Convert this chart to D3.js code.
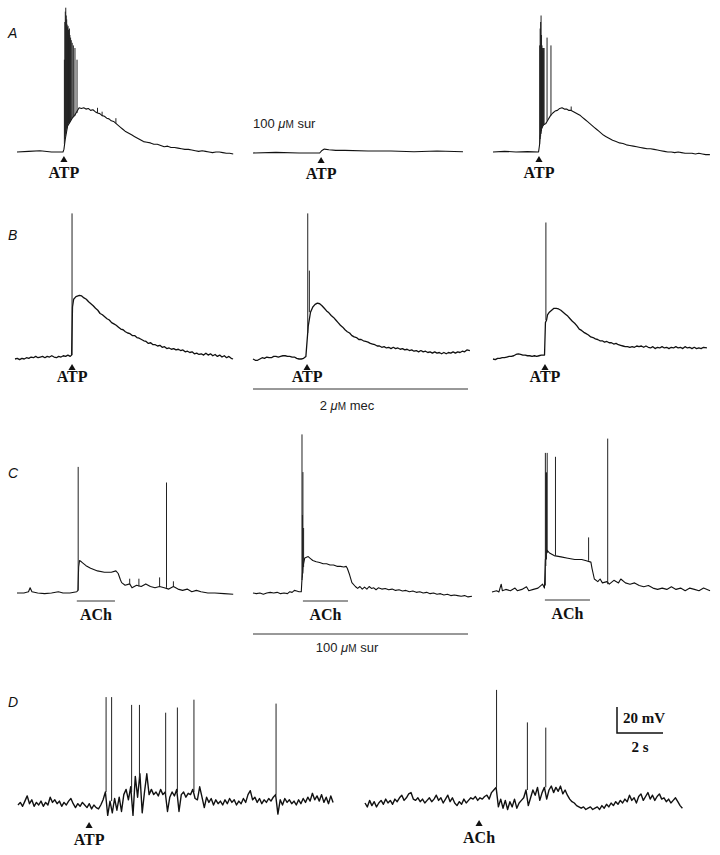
<!DOCTYPE html>
<html>
<head>
<meta charset="utf-8">
<script src="https://cdn.jsdelivr.net/npm/d3@7"></script>
<style>
  body { margin: 0; background: #fff; }
  svg text { fill: #111; }
</style>
</head>
<body>
<div id="fig"></div>
<script>
// ---- Data: traces as [time (s), membrane potential above rest (mV)] ----
// spikes as [time (s), base mV, peak mV]

// Row A: ATP, ATP + 100 uM sur, ATP after washout
const a1Trace = [[0,0],[0.5,0.5],[1,1],[1.5,0],[2.0,0],[2.04,2],[2.1,10],[2.2,20],[2.3,23],[2.4,26],[2.5,28],[2.6,31],[2.7,34],[2.8,33.5],[2.9,34],[3.0,33],[3.1,33.5],[3.2,32],[3.3,32.5],[3.4,31],[3.5,30],[3.6,29.5],[3.7,28],[3.8,27.5],[3.9,26],[4.0,25.5],[4.1,24],[4.2,23.5],[4.3,22],[4.4,20.5],[4.5,19],[4.6,17.5],[4.7,16],[4.8,15],[4.9,14],[5.0,13],[5.1,12],[5.2,11],[5.3,10],[5.4,9],[5.5,8],[5.65,7.5],[5.8,7],[5.95,6],[6.1,6],[6.25,5],[6.4,4],[6.55,4.5],[6.7,3.5],[6.85,3.5],[7.0,3],[7.15,2.5],[7.3,2],[7.45,2],[7.6,1.5],[7.75,1],[7.9,0.5],[8.05,1],[8.2,0.5],[8.35,0],[8.5,-0.5],[8.65,0],[8.8,0],[8.95,-0.5],[9.1,-1],[9.25,-1],[9.4,-1.5]];
const a1Spikes = [[2.06,6,71],[2.08,10,100],[2.10,12,108],[2.12,14,111],[2.14,16,105],[2.16,18,102],[2.18,19,98],[2.20,20,96],[2.22,21,97],[2.24,22,94],[2.26,22,92],[2.28,23,95],[2.30,23,90],[2.33,24,88],[2.36,25,86],[2.40,26,84],[2.45,27,82],[2.52,28,80],[2.61,30,71],[3.5,30,34],[3.7,28,31],[4.3,22,26]];
const a2Trace = [[0,0],[1,0.5],[2,0],[2.9,0],[3.0,2],[3.1,3],[3.3,2.5],[3.6,2],[4,2],[5,1.5],[6,1.5],[7,1],[8,1.5],[9.13,1]];
const a2Spikes = [];
const a3Trace = [[0,0],[0.5,0.5],[1,0],[1.5,0.3],[1.98,0],[2.02,5],[2.05,12],[2.1,18],[2.2,21],[2.3,22],[2.4,25],[2.5,28],[2.6,30],[2.7,31.5],[2.8,32],[2.9,33.5],[3.0,34],[3.1,33],[3.2,33],[3.3,32],[3.4,32],[3.5,31],[3.6,30],[3.7,29],[3.8,28],[3.9,26.5],[4.0,25],[4.1,23.5],[4.2,22],[4.3,20.5],[4.4,19],[4.5,17.5],[4.6,16],[4.7,14.5],[4.8,13],[4.9,12],[5.0,11],[5.1,10],[5.2,9],[5.35,8],[5.5,7],[5.65,6.5],[5.8,5.5],[5.95,5],[6.1,4.5],[6.25,4],[6.4,3.5],[6.55,3],[6.7,2.5],[6.85,2.5],[7.0,2],[7.15,1.5],[7.3,1],[7.45,0.5],[7.6,0],[7.75,0],[7.9,-0.5],[8.05,0],[8.2,-0.5],[8.35,-1],[8.5,-1],[8.65,-1],[8.8,-1.5],[8.95,-1],[9.1,-1.5],[9.25,-2],[9.43,-2]];
const a3Spikes = [[2.03,6,82],[2.05,10,95],[2.07,12,100],[2.09,14,105],[2.11,16,90],[2.13,18,82],[2.15,19,80],[2.17,20,78],[2.20,21,80],[2.22,21,80],[2.35,24,88],[2.52,28,82],[3.4,32,35]];

// Row B: ATP, ATP + 2 uM mec, washout
const b1Trace = [[0,0],[0.1,0.5],[0.2,-0.5],[0.3,0.5],[0.4,0],[0.5,1],[0.6,0.5],[0.7,1.5],[0.8,1],[0.9,2],[1.0,1],[1.1,1.5],[1.2,2],[1.3,1],[1.4,2],[1.5,1.5],[1.6,2.5],[1.7,1.5],[1.8,1],[1.9,2],[2.0,1.5],[2.1,2.5],[2.2,2],[2.3,3],[2.4,2],[2.46,3],[2.5,40],[2.55,46],[2.65,48],[2.8,49],[2.9,48.5],[3.0,47],[3.1,46],[3.2,44],[3.3,42.5],[3.4,41],[3.5,39],[3.6,37.5],[3.7,35],[3.8,34],[3.9,32.5],[4.0,31],[4.1,30],[4.2,28],[4.3,27],[4.4,26],[4.5,24.5],[4.6,23],[4.7,22.5],[4.8,21],[4.9,20],[5.0,19.5],[5.1,18],[5.2,18],[5.3,16.5],[5.4,16],[5.5,15],[5.6,14],[5.7,13.5],[5.8,12],[5.9,12.5],[6.0,11],[6.1,11],[6.2,10],[6.3,10.5],[6.4,9],[6.5,9.5],[6.6,8],[6.7,8.5],[6.8,7.5],[6.9,8],[7.0,7],[7.1,7.5],[7.2,6.5],[7.3,7],[7.4,5.5],[7.5,6],[7.6,5],[7.7,5.5],[7.8,4],[7.9,4.5],[8.0,3.5],[8.1,4],[8.2,3],[8.3,4.5],[8.4,3],[8.5,4],[8.6,2.5],[8.7,3.5],[8.8,2],[8.9,3],[9.0,1.5],[9.1,2.5],[9.2,1],[9.3,2],[9.4,0.5],[9.48,0]];
const b1Spikes = [[2.48,3,112]];
const b2Trace = [[0,0],[0.1,-1],[0.2,-1],[0.3,0],[0.4,1],[0.5,0.5],[0.6,1.5],[0.7,1],[0.8,1],[0.9,2],[1.0,2],[1.1,1.5],[1.2,2],[1.3,2.5],[1.4,2.5],[1.5,2],[1.6,2],[1.7,1.5],[1.8,1.5],[1.9,0.5],[2.0,0],[2.1,0],[2.2,0.5],[2.3,2],[2.4,25],[2.5,36],[2.6,40],[2.7,42],[2.8,43],[2.9,42.5],[3.0,41],[3.1,39],[3.2,37],[3.3,35.5],[3.4,33.5],[3.5,32],[3.6,30],[3.7,28],[3.8,26],[3.9,24.5],[4.0,22.5],[4.1,21],[4.2,20],[4.3,18],[4.4,17],[4.5,16.5],[4.6,15],[4.7,15],[4.8,14],[4.9,13.5],[5.0,13],[5.1,12],[5.2,11.5],[5.3,11],[5.4,10],[5.5,10],[5.6,9],[5.7,9.5],[5.8,8.5],[5.9,9],[6.0,8],[6.1,9],[6.2,8],[6.3,8.5],[6.4,7.5],[6.5,8],[6.6,7],[6.7,7.5],[6.8,6.5],[6.9,7],[7.0,6],[7.1,6.5],[7.2,5.5],[7.3,6.5],[7.4,5.5],[7.5,6],[7.6,5],[7.7,5.5],[7.8,4.5],[7.9,5.5],[8.0,4.5],[8.1,5],[8.2,4],[8.3,5],[8.4,4],[8.5,5],[8.6,4.5],[8.7,5.5],[8.8,4.5],[8.9,5.5],[9.0,5],[9.1,6],[9.2,5.5],[9.3,7],[9.43,6.5]];
const b2Spikes = [[2.38,20,112],[2.45,36,68]];
const b3Trace = [[0,0],[0.1,-0.5],[0.2,0.5],[0.3,0.5],[0.4,1],[0.5,1],[0.6,1.5],[0.7,2],[0.8,2],[0.9,2.5],[1.0,3.5],[1.1,4],[1.2,3.5],[1.3,3],[1.4,3],[1.5,2.5],[1.6,2.5],[1.7,2],[1.8,2.5],[1.9,2],[2.0,2.5],[2.1,3],[2.2,3],[2.24,3],[2.28,28],[2.33,30],[2.37,34],[2.45,36],[2.55,37.5],[2.65,39],[2.75,39],[2.85,38.5],[2.95,37.5],[3.05,36],[3.15,34.5],[3.25,33],[3.35,31],[3.45,29],[3.55,27.5],[3.65,25.5],[3.75,23],[3.85,22],[3.95,20.5],[4.05,19.5],[4.15,18.5],[4.25,17],[4.35,16.5],[4.45,15.5],[4.55,15],[4.65,14],[4.75,14],[4.85,13],[4.95,13.5],[5.05,12.5],[5.15,12.5],[5.25,11.5],[5.35,12],[5.45,11],[5.55,10.5],[5.65,10],[5.75,9.5],[5.85,9.5],[5.95,9],[6.05,9.5],[6.15,9],[6.25,10],[6.35,9.5],[6.45,10],[6.55,9],[6.65,10],[6.75,9],[6.85,8.5],[6.95,9.5],[7.05,8],[7.15,9],[7.25,8.5],[7.35,9.5],[7.45,8.5],[7.55,9],[7.65,8],[7.75,9],[7.85,8.5],[7.95,9.5],[8.05,8.5],[8.15,9],[8.25,8],[8.35,9.5],[8.45,8.5],[8.55,9],[8.65,8],[8.75,9],[8.85,8],[8.95,8.5],[9.05,8],[9.15,9],[9.3,8.5]];
const b3Spikes = [[2.3,30,105]];

// Row C: ACh, ACh + 100 uM sur, washout
const c1Trace = [[0,0],[0.3,0],[0.5,1],[0.57,4],[0.65,1],[0.9,0],[1.2,-0.5],[1.5,0],[1.8,1],[2.0,0],[2.3,0],[2.6,1],[2.65,2],[2.68,20],[2.72,25],[2.8,24],[3.0,21],[3.2,19],[3.5,17],[3.8,16],[4.1,16],[4.3,17],[4.4,15],[4.5,10],[4.55,8],[4.7,6],[4.9,7],[5.0,4],[5.2,6],[5.4,5],[5.6,7],[5.8,5],[6.0,4],[6.2,5],[6.4,4],[6.6,3],[6.8,5],[7.0,3],[7.2,2],[7.4,3],[7.6,1],[7.8,2],[8.0,1],[8.3,0],[8.6,0],[9.0,-0.5],[9.4,-1]];
const c1Spikes = [[2.66,2,97],[6.5,4,85],[4.9,7,11],[5.3,5,11],[6.2,5,12],[6.8,5,9]];
const c2Trace = [[0,0],[0.15,-0.5],[0.3,0],[0.45,-1],[0.6,0],[0.75,0.5],[0.9,0],[1.05,0.5],[1.2,-0.5],[1.35,0],[1.5,-0.5],[1.6,1],[1.7,0.5],[1.8,2],[1.9,1.5],[2.0,1],[2.1,1],[2.12,8],[2.17,20],[2.25,27],[2.4,28],[2.5,26.5],[2.6,25],[2.75,24],[2.9,23.5],[3.05,22.5],[3.2,22.5],[3.35,21.5],[3.5,21.5],[3.65,20.5],[3.8,20.5],[3.95,20],[4.05,20.5],[4.1,19],[4.2,14],[4.3,8],[4.45,5],[4.55,3.5],[4.65,5],[4.75,3],[4.85,4.5],[4.95,3],[5.05,5],[5.15,3.5],[5.25,4],[5.35,2.5],[5.45,4],[5.6,3],[5.75,3.5],[5.9,2.5],[6.05,3],[6.2,2],[6.35,2.5],[6.5,1.5],[6.65,2],[6.8,1],[6.95,1.5],[7.1,0.5],[7.25,1],[7.4,0],[7.55,0.5],[7.7,-0.5],[7.85,0],[8.0,-1],[8.15,-0.5],[8.3,-1.5],[8.45,-1],[8.6,-2],[8.75,-1.5],[8.9,-2],[9.05,-2.5],[9.2,-2],[9.35,-3],[9.52,-2.5]];
const c2Spikes = [[2.13,10,122],[2.15,12,60],[2.17,15,93],[2.2,20,50]];
const c3Trace = [[0,0],[0.2,1],[0.3,0],[0.4,6],[0.45,1],[0.6,2],[0.8,1],[1.0,3],[1.1,1],[1.3,2],[1.5,4],[1.6,1],[1.8,2],[2.0,3],[2.2,6],[2.28,3],[2.32,25],[2.4,32],[2.5,30],[2.7,28],[3.0,27],[3.3,26],[3.6,25],[3.9,25],[4.1,24],[4.3,23],[4.35,18],[4.45,10],[4.6,8],[4.7,10],[4.8,7],[5.0,8],[5.1,6],[5.3,9],[5.5,7],[5.6,10],[5.8,7],[6.0,6],[6.2,7],[6.4,5],[6.6,4],[6.8,5],[7.0,3],[7.2,2],[7.4,3],[7.6,2],[7.8,4],[8.0,2],[8.2,3],[8.4,1],[8.6,3],[8.8,2],[9.0,1],[9.2,3],[9.48,1]];
const c3Spikes = [[2.32,5,107],[2.34,20,92],[2.37,25,92],[2.4,30,107],[2.76,28,104],[4.2,24,42],[5.03,6,118]];

// Row D: sampled every 0.1 s
const dStep = 0.1;
const d1Values = [0,2,-1,3,7,1,4,-1,2,0, 3,-1,2,0,6,2,4,1,3,-1, 2,0,3,5,1,-2,1,-1,2,0, -2,1,-3,0,-2,-3,0,4,10,-8, 3,-6,5,-4,6,-5,8,12,4,14, -8,22,6,24,-6,10,24,8,12,8, 10,7,12,8,10,-5,6,10,7,12, -5,8,10,6,9,8,12,5,4,14, 6,-2,6,2,5,0,4,1,3,0, 4,1,5,2,4,0,3,1,5,2, 8,11,4,6,2,5,1,4,2,5, 3,6,8,-7,4,0,5,2,4,1, 3,0,4,1,5,2,6,3,9,4, 7,3,8,2,6,1,7,2];
const d1Spikes = [[3.83,10,83],[4.07,3,83],[4.94,10,77],[5.28,20,77],[6.42,8,71],[6.93,10,75],[7.65,10,81],[11.22,8,78]];
const d2Values = [0,-3,2,-2,1,-3,0,2,-1,3, 0,2,-1,3,1,4,6,2,4,7, 8,3,2,4,1,3,0,2,4,1, 3,6,2,4,0,3,6,1,4,0, -2,1,-1,3,0,2,4,3,5,2, 4,3,5,6,3,8,10,12,-3,3, -4,2,-5,1,-3,3,-4,0,2,4, 10,-2,4,10,6,12,2,8,12,3, 10,13,8,12,9,13,7,10,6,3, 1,0,-2,-3,-4,-3,-5,-4,-3,-5, -4,-3,-5,-2,-4,-1,-3,0,-2,1, -1,2,0,3,1,6,2,4,0,5, 7,2,5,8,3,6,2,5,7,3, 4,1,3,0,2,4,1,-2,-4];
const d2Spikes = [[5.72,12,87],[7.06,10,62],[7.86,12,58]];

// Stimulus markers
const arrowTimesA = [2.04, 2.96, 2.0];
const arrowTimesB = [2.48, 2.35, 2.26];
const achBarsC = [[2.6, 4.26], [2.17, 4.13], [2.3, 4.26]];
const arrowTimesD = [3.09, 4.96];
const arrowNamesD = ['ATP', 'ACh'];
const panelLetters = ['A', 'B', 'C', 'D'];

// Calibration
const scaleBarMv = 20;
const scaleBarS = 2;

// ---- Layout ----
const PX_PER_S = 23, PX_PER_MV = 1.3;
const width = 720, height = 855;

const svg = d3.select('#fig').append('svg')
    .attr('width', width)
    .attr('height', height)
    .style('background', '#fff');

const serif = '"Liberation Serif", "Times New Roman", serif';
const sans = '"Liberation Sans", Arial, sans-serif';

const toPoints = (values) => values.map((v, i) => [i * dStep, v]);

const traces = [
    { data: a1Trace, spikes: a1Spikes, x0: 17,  y0: 152, w: 1.1 },
    { data: a2Trace, spikes: a2Spikes, x0: 253, y0: 153, w: 1.1 },
    { data: a3Trace, spikes: a3Spikes, x0: 493, y0: 152, w: 1.1 },
    { data: b1Trace, spikes: b1Spikes, x0: 15,  y0: 359, w: 1.3 },
    { data: b2Trace, spikes: b2Spikes, x0: 253, y0: 359, w: 1.3 },
    { data: b3Trace, spikes: b3Spikes, x0: 493, y0: 359, w: 1.3 },
    { data: c1Trace, spikes: c1Spikes, x0: 17,  y0: 593, w: 1.1 },
    { data: c2Trace, spikes: c2Spikes, x0: 253, y0: 593, w: 1.1 },
    { data: c3Trace, spikes: c3Spikes, x0: 492, y0: 592, w: 1.1 },
    { data: toPoints(d1Values), spikes: d1Spikes, x0: 18,  y0: 805, w: 1.4 },
    { data: toPoints(d2Values), spikes: d2Spikes, x0: 365, y0: 803, w: 1.4 }
];

// one pair of scales per trace, all sharing the same calibration
traces.forEach(tr => {
    const tMax = d3.max(tr.data, d => d[0]);
    tr.x = d3.scaleLinear().domain([0, tMax]).range([tr.x0, tr.x0 + tMax * PX_PER_S]);
    tr.y = d3.scaleLinear().domain([0, 100]).range([tr.y0, tr.y0 - 100 * PX_PER_MV]);
});

// Draw the traces
traces.forEach(tr => {
    const line = d3.line()
        .x(d => tr.x(d[0]))
        .y(d => tr.y(d[1]));
    svg.append('path')
        .datum(tr.data)
        .attr('fill', 'none')
        .attr('stroke', '#111')
        .attr('stroke-width', tr.w)
        .attr('stroke-linejoin', 'round')
        .attr('d', line);

    svg.append('g').selectAll('line')
        .data(tr.spikes)
        .join('line')
            .attr('x1', d => tr.x(d[0]))
            .attr('x2', d => tr.x(d[0]))
            .attr('y1', d => tr.y(d[1]))
            .attr('y2', d => tr.y(d[2]))
            .attr('stroke', '#222')
            .attr('stroke-width', 1);
});

// Panel letters
const letterY = [38, 240, 478, 707];
svg.selectAll('.panel-letter')
    .data(panelLetters)
    .join('text')
        .attr('x', 8)
        .attr('y', (d, i) => letterY[i])
        .attr('font-family', sans)
        .attr('font-style', 'italic')
        .attr('font-size', 14)
        .text(d => d);

// Arrow + label under a trace
const drawArrow = (tr, t, name, arrowOff, labelOff) => {
    const x = tr.x(t);
    svg.append('path')
        .attr('d', d3.symbol(d3.symbolTriangle, 22)())
        .attr('transform', `translate(${x}, ${tr.y0 + arrowOff})`)
        .attr('fill', '#111');
    svg.append('text')
        .attr('x', x)
        .attr('y', tr.y0 + labelOff)
        .attr('text-anchor', 'middle')
        .attr('font-family', serif)
        .attr('font-weight', 'bold')
        .attr('font-size', 16)
        .text(name);
};

arrowTimesA.forEach((t, i) => drawArrow(traces[i], t, 'ATP', 8, 26));
arrowTimesB.forEach((t, i) => drawArrow(traces[3 + i], t, 'ATP', 9, 23));
arrowTimesD.forEach((t, i) => drawArrow(traces[9 + i], t, arrowNamesD[i], 21, 40));

// ACh application bars (row C)
achBarsC.forEach((b, i) => {
    const tr = traces[6 + i];
    svg.append('line')
        .attr('x1', tr.x(b[0])).attr('x2', tr.x(b[1]))
        .attr('y1', tr.y0 + 8).attr('y2', tr.y0 + 8)
        .attr('stroke', '#333').attr('stroke-width', 1);
    svg.append('text')
        .attr('x', (tr.x(b[0]) + tr.x(b[1])) / 2)
        .attr('y', tr.y0 + 27)
        .attr('text-anchor', 'middle')
        .attr('font-family', serif)
        .attr('font-weight', 'bold')
        .attr('font-size', 16)
        .text('ACh');
});

// Drug labels, "μM" with small capital M
const drugLabel = (x, y, dose, drug, anchor) => {
    const t = svg.append('text')
        .attr('x', x).attr('y', y)
        .attr('text-anchor', anchor)
        .attr('font-family', sans)
        .attr('font-size', 13)
        .style('fill', '#222');
    t.append('tspan').text(dose + ' ');
    t.append('tspan').attr('font-style', 'italic').text('μ');
    t.append('tspan').attr('font-size', 10).text('M');
    t.append('tspan').text(' ' + drug);
};

drugLabel(253, 128, '100', 'sur', 'start');

// mec bar under B2, sur bar under C2
[[traces[4], 389, 410, '2', 'mec'], [traces[7], 634, 652, '100', 'sur']].forEach(([tr, ly, ty, dose, drug]) => {
    svg.append('line')
        .attr('x1', tr.x0).attr('x2', 468)
        .attr('y1', ly).attr('y2', ly)
        .attr('stroke', '#333').attr('stroke-width', 1);
    drugLabel(347, ty, dose, drug, 'middle');
});

// Scale bar
const sbX = 617, sbY = 733;
const sbW = scaleBarS * PX_PER_S, sbH = scaleBarMv * PX_PER_MV;
svg.append('path')
    .attr('d', `M${sbX},${sbY - sbH}V${sbY}H${sbX + sbW}`)
    .attr('fill', 'none')
    .attr('stroke', '#111')
    .attr('stroke-width', 1.5);
svg.append('text')
    .attr('x', sbX + 6).attr('y', sbY - 10)
    .attr('font-family', serif).attr('font-weight', 'bold').attr('font-size', 15)
    .text(`${scaleBarMv} mV`);
svg.append('text')
    .attr('x', sbX + sbW / 2).attr('y', sbY + 19)
    .attr('text-anchor', 'middle')
    .attr('font-family', serif).attr('font-weight', 'bold').attr('font-size', 15)
    .text(`${scaleBarS} s`);
</script>
</body>
</html>
